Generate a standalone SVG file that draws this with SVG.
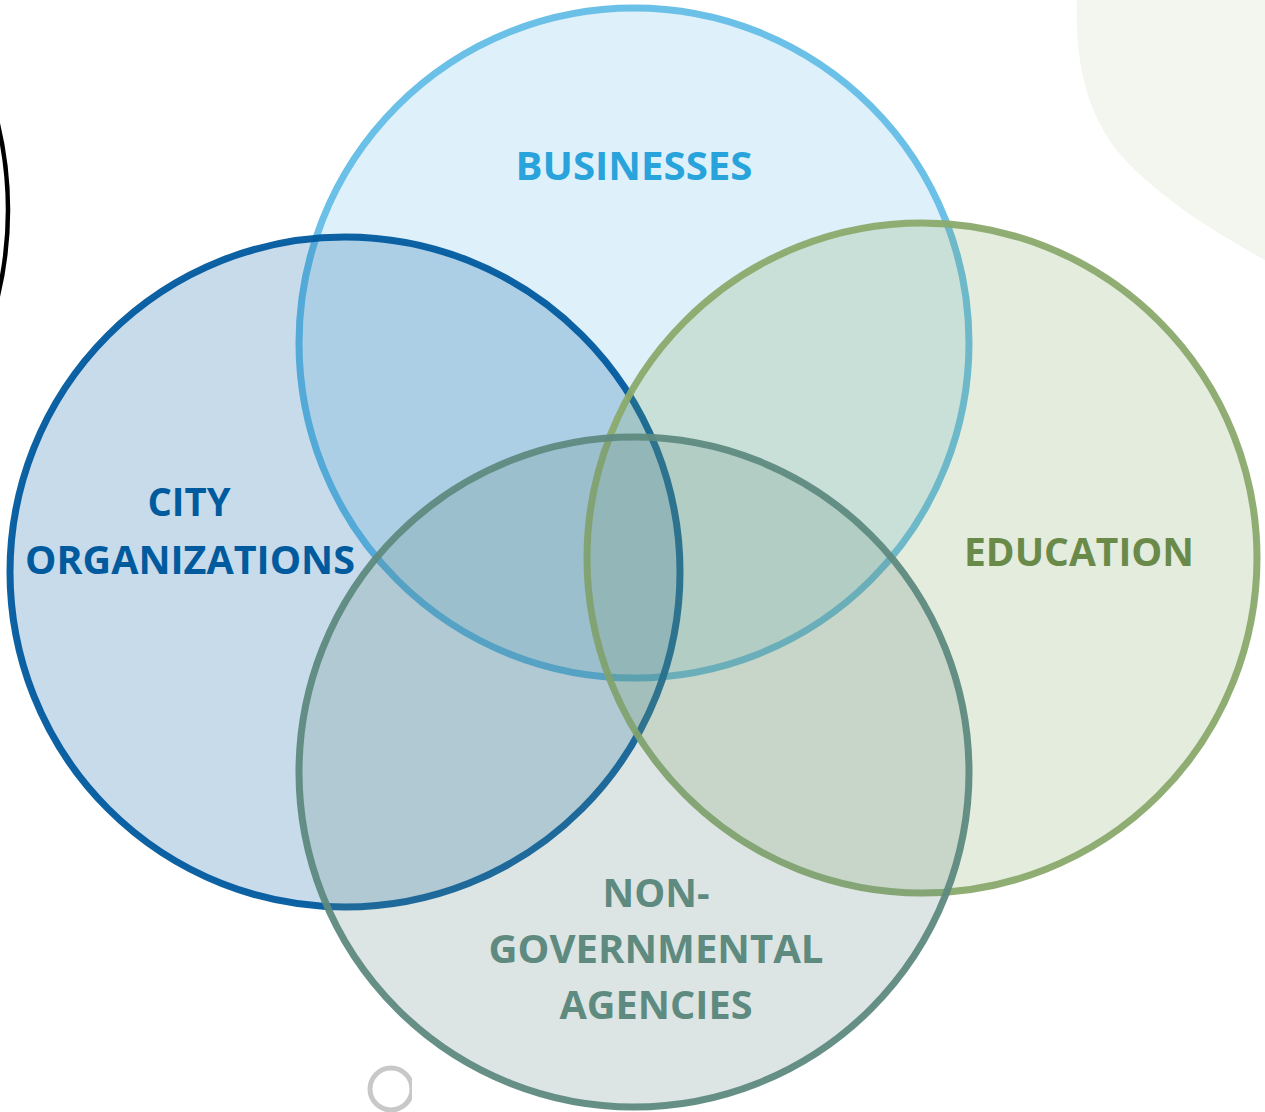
<svg xmlns="http://www.w3.org/2000/svg" width="1265" height="1112" viewBox="0 0 1265 1112">
  <style>
    .lbl { font-family: "Open Sans", "Noto Sans", "Liberation Sans", sans-serif; font-weight: 700; font-size: 40px; text-anchor: middle; }
    .ring { stroke-width: 7; }
  </style>
  <defs>
    <clipPath id="clipSmall"><rect x="0" y="0" width="412" height="1112"/></clipPath>
  </defs>
  <rect width="1265" height="1112" fill="#ffffff"/>
  <g id="decor">
    <path d="M1077,0 C1075,60 1085,120 1130,165 C1170,205 1220,235 1265,260 L1265,0 Z" fill="#F3F6EE"/>
    <circle cx="-362" cy="210" r="370" fill="none" stroke="#000000" stroke-width="4.5"/>
    <circle cx="391" cy="1089" r="21" fill="none" stroke="#C8C8C8" stroke-width="5" clip-path="url(#clipSmall)"/>
  </g>
  <g id="businesses">
    <circle class="ring" cx="634" cy="343" r="335" fill="#5BB5E0" fill-opacity="0.2" stroke="#6BC0E8"/>
  </g>
  <g id="city">
    <circle class="ring" cx="345" cy="572" r="335" fill="#005A9E" fill-opacity="0.22" stroke="#005A9E" stroke-opacity="0.95"/>
  </g>
  <g id="education">
    <circle class="ring" cx="922" cy="558" r="335" fill="#7A9F55" fill-opacity="0.2" stroke="#8AAA6C" stroke-opacity="0.95"/>
  </g>
  <g id="ngo">
    <circle class="ring" cx="634" cy="772" r="335" fill="#5E8A80" fill-opacity="0.22" stroke="#5E8A80" stroke-opacity="0.95"/>
  </g>
  <g id="labels">
    <text class="lbl" x="634" y="180" fill="#29A3DB" textLength="237" lengthAdjust="spacingAndGlyphs">BUSINESSES</text>
    <text class="lbl" x="189" y="516" fill="#005A9E" textLength="83" lengthAdjust="spacingAndGlyphs">CITY</text>
    <text class="lbl" x="190" y="574" fill="#005A9E" textLength="330" lengthAdjust="spacingAndGlyphs">ORGANIZATIONS</text>
    <text class="lbl" x="1079" y="566" fill="#6A8A4A" textLength="230" lengthAdjust="spacingAndGlyphs">EDUCATION</text>
    <text class="lbl" x="656" y="907" fill="#5E8A80" textLength="107" lengthAdjust="spacingAndGlyphs">NON-</text>
    <text class="lbl" x="656" y="963" fill="#5E8A80" textLength="335" lengthAdjust="spacingAndGlyphs">GOVERNMENTAL</text>
    <text class="lbl" x="656" y="1019" fill="#5E8A80" textLength="193" lengthAdjust="spacingAndGlyphs">AGENCIES</text>
  </g>
</svg>
